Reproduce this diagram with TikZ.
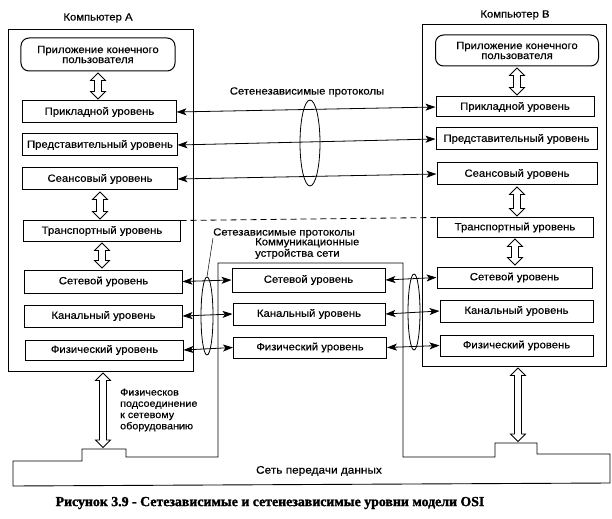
\documentclass[tikz,border=0pt]{standalone}
\usepackage{fontspec}
\setmainfont{Liberation Sans}[FakeStretch=1.08,FakeBold=0.4]
\newfontfamily\capfont{Liberation Serif}[FakeBold=1.5]
\usetikzlibrary{arrows.meta,calc,shapes.geometric}

\newcommand\vdarr[2]{%
  \draw[line width=0.8bp] let \p1=#1, \p2=#2 in
  (\x1,\y1-1.5bp) -- (\x1+7.5bp,\y1-9bp) -- (\x1+3.5bp,\y1-9bp) -- (\x1+3.5bp,\y2+9bp)
  -- (\x1+7.5bp,\y2+9bp) -- (\x1,\y2+1.5bp) -- (\x1-7.5bp,\y2+9bp) -- (\x1-3.5bp,\y2+9bp)
  -- (\x1-3.5bp,\y1-9bp) -- (\x1-7.5bp,\y1-9bp) -- cycle;}

\begin{document}
\begin{tikzpicture}[x=1bp,y=-1bp,
  lay/.style={draw,line width=1bp,inner sep=0pt,font=\fontsize{10.5}{12}\selectfont},
  frm/.style={draw,line width=0.9bp,inner sep=0pt},
  conn/.style={line width=0.8bp,{Stealth[length=10bp,width=7bp,inset=2.5bp]}-{Stealth[length=10bp,width=7bp,inset=2.5bp]}},
  lbl/.style={inner sep=0pt,font=\fontsize{10.5}{11.5}\selectfont},
  ell/.style={ellipse,draw,line width=0.8bp,inner sep=0pt}
]
\useasboundingbox[fill=white] (0,0) rectangle (612,519);

% frames
\node[frm,minimum width=185bp,minimum height=342bp] (aFrame) at (100.5,200) {};
\node[frm,minimum width=184bp,minimum height=342bp] (bFrame) at (514,195) {};
\draw[line width=0.9bp] (13,486) -- (13,461) -- (82,461) -- (82,449) -- (126,449) -- (126,457)
  -- (218,457) -- (218,263) -- (403,263) -- (403,457) -- (495,457) -- (495,443) -- (537,443)
  -- (537,454) -- (610,454) -- (610,483) -- cycle;
\coordinate (bumpA) at (103,449);
\coordinate (bumpB) at (518,443);

% labels
\node[lbl] (labA) at (98,18) {Компьютер А};
\node[lbl] (labB) at (515,15) {Компьютер В};

% computer A
\node[lay,rounded corners=8bp,minimum width=154bp,minimum height=33bp,align=center] (aApp) at (98,54.5) {Приложение конечного\\[-2bp]пользователя};
\node[lay,minimum width=153bp,minimum height=22bp] (aL7) at (99.5,112) {Прикладной уровень};
\node[lay,minimum width=154bp,minimum height=22bp] (aL6) at (100,145) {Представительный уровень};
\node[lay,minimum width=154bp,minimum height=22bp] (aL5) at (100,179) {Сеансовый уровень};
\node[lay,minimum width=156bp,minimum height=20bp] (aL4) at (102,231) {Транспортный уровень};
\node[lay,minimum width=157bp,minimum height=23bp] (aL3) at (103.5,281.5) {Сетевой уровень};
\node[lay,minimum width=157bp,minimum height=22bp] (aL2) at (103.5,316) {Канальный уровень};
\node[lay,minimum width=157bp,minimum height=20bp] (aL1) at (104.5,350) {Физический уровень};

% computer B
\node[lay,rounded corners=8bp,minimum width=163bp,minimum height=31bp,align=center] (bApp) at (517,50.5) {Приложение конечного\\[-2bp]пользователя};
\node[lay,minimum width=158bp,minimum height=20bp] (bL7) at (515,107) {Прикладной уровень};
\node[lay,minimum width=161bp,minimum height=22bp] (bL6) at (516.5,139) {Представительный уровень};
\node[lay,minimum width=160bp,minimum height=22bp] (bL5) at (517,174) {Сеансовый уровень};
\node[lay,minimum width=156bp,minimum height=19bp] (bL4) at (515,227.5) {Транспортный уровень};
\node[lay,minimum width=155bp,minimum height=21bp] (bL3) at (514.5,277.5) {Сетевой уровень};
\node[lay,minimum width=153bp,minimum height=22bp] (bL2) at (516.5,311) {Канальный уровень};
\node[lay,minimum width=153bp,minimum height=21bp] (bL1) at (516.5,345.5) {Физический уровень};

% communication devices
\node[lay,minimum width=153bp,minimum height=24bp] (cL3) at (308.5,280) {Сетевой уровень};
\node[lay,minimum width=152bp,minimum height=22bp] (cL2) at (309,314) {Канальный уровень};
\node[lay,minimum width=153bp,minimum height=21bp] (cL1) at (310,347.5) {Физический уровень};
\node[lbl,anchor=west,align=left] (labComm) at (255,248.5) {Коммуникационные\\устройства сети};

% vertical double arrows
\vdarr{(aApp.south)}{(aL7.north)}
\vdarr{(aL5.south)}{(aL4.north)}
\vdarr{(aL4.south)}{(aL3.north)}
\vdarr{($(aFrame.south)+(2.5,0)$)}{(bumpA)}
\vdarr{(bApp.south)}{(bL7.north)}
\vdarr{(bL5.south)}{(bL4.north)}
\vdarr{(bL4.south)}{($(bL3.north)+(2,0)$)}
\vdarr{($(bFrame.south)+(4,0)$)}{(bumpB)}

% horizontal connectors
\draw[conn] (aL7.east) -- (bL7.west);
\draw[conn] (aL6.east) -- (bL6.west);
\draw[conn] (aL5.east) -- (bL5.west);
\draw[line width=0.8bp,dash pattern=on 6bp off 4bp] (aL4.north east) -- (bL4.north west);
\draw[conn] (aL3.east) -- (cL3.west);
\draw[conn] (aL2.east) -- (cL2.west);
\draw[conn] (aL1.east) -- (cL1.west);
\draw[conn] (cL3.east) -- (bL3.west);
\draw[conn] (cL2.east) -- (bL2.west);
\draw[conn] (cL1.east) -- (bL1.west);

% ellipses and protocol labels
\node[ell,minimum width=20bp,minimum height=86bp] (ellM) at (310,143) {};
\node[ell,minimum width=12bp,minimum height=78bp] (ellL) at (207,316) {};
\node[ell,minimum width=12bp,minimum height=76bp] (ellR) at (414,312) {};
\node[lbl] (labIndep) at (307,92) {Сетенезависимые протоколы};
\node[lbl,anchor=west] (labDep) at (213,233) {Сетезависимые протоколы};
\draw[line width=0.5bp] (labDep.south west) -- (ellL.north);

% bottom texts
\node[lbl,anchor=west,align=left,font=\fontsize{10}{11.3}\selectfont] (labPhys) at (120,410) {Физическов\\подсоединение\\к сетевому\\оборудованию};
\node[lbl,font=\fontsize{11}{12}\selectfont] (labNet) at (319,471) {Сеть передачи данных};
\node[inner sep=0pt,font=\capfont\bfseries\fontsize{13.9}{15}\selectfont] (caption) at (270,503) {Рисунок 3.9 - Сетезависимые и сетенезависимые уровни модели OSI};
\end{tikzpicture}
\end{document}
